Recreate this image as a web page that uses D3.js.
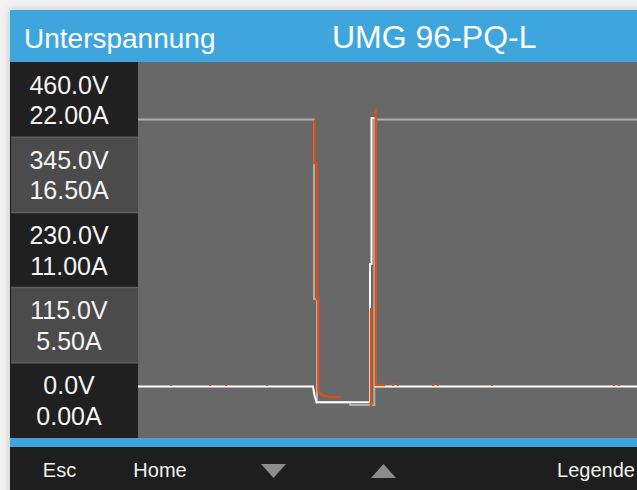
<!DOCTYPE html>
<html>
<head>
<meta charset="utf-8">
<script src="https://cdn.jsdelivr.net/npm/d3@7"></script>
<style>
  html, body { margin: 0; padding: 0; background: #f3f3f3; }
  svg { display: block; }
  text { font-family: "Liberation Sans", Arial, sans-serif; }
</style>
</head>
<body>
<svg id="chart" width="637" height="490"></svg>
<script>
// ---------- data ----------
const title = "UMG 96-PQ-L";
const pageName = "Unterspannung";
const voltTicks = [460, 345, 230, 115, 0];
const ampTicks = [22, 16.5, 11, 5.5, 0];
const menuItems = ["Esc", "Home", "▼", "▲", "Legende"];

// time index (samples) / value (V); null = gap
const seriesGray = [
  [0, 429.6], [176, 429.6], [176, 155.1], [179, 155.1], [179, -3], [212, -3],
  [212, -7], [236.3, -7], [236.3, 429.6], [500, 429.6]
];
const seriesWhite = [
  [0, 21.3], [175, 21.3], [176.5, 8], [178.5, -3], [232, -3], [232, 208.6],
  [233.5, 208.6], [233.5, 431.9], [237.5, 431.9], [237.5, 21.3], [500, 21.3]
];
const seriesOrange = [
  [32, 24], [34, 24], null,
  [71, 24], [73, 24], null,
  [87, 24], [89, 24], null,
  [128, 24], [130, 24], null,
  [176.5, 429.6], [176.5, 363], [179, 363], [179, 155.1], [180.5, 155.1], [180.5, 15.9],
  [181.5, 12], [183, 9], [186, 7], [189, 6], [192, 5.2], [203, 5.2], null,
  [233, 141.3], [233, -10.1], null,
  [237.7, 445.6], [237.7, 23.6], [247, 23.6], null,
  [254, 24], [256, 24], null,
  [259, 24], [261, 24], null,
  [294, 24], [296, 24], null,
  [299, 24], [301, 24], null,
  [353, 24], [355, 24], null,
  [475, 24], [477, 24], null,
  [480, 24], [482, 24]
];

// ---------- layout ----------
const svg = d3.select("#chart");
const W = 637, H = 490;
const frameX = 10, frameY = 10;
const headerBottom = 62, plotBottom = 438, blueBottom = 447;
const plotLeft = 138;

const defs = svg.append("defs");
const f = defs.append("filter").attr("id", "shadow").attr("x", "-5%").attr("y", "-5%").attr("width", "110%").attr("height", "110%");
f.append("feDropShadow").attr("dx", 0).attr("dy", 0).attr("stdDeviation", 4).attr("flood-color", "#000").attr("flood-opacity", 0.22);

// frame
svg.append("rect").attr("x", frameX).attr("y", frameY).attr("width", W).attr("height", H)
  .attr("fill", "#1e1e1e").attr("filter", "url(#shadow)");

// header
svg.append("rect").attr("x", frameX).attr("y", frameY).attr("width", W - frameX).attr("height", headerBottom - frameY)
  .attr("fill", "#3ea6dd");
svg.append("text").attr("x", 24).attr("y", 48).attr("fill", "#fff").attr("font-size", 28).text(pageName);
svg.append("text").attr("x", 332).attr("y", 48).attr("fill", "#fff").attr("font-size", 32).text(title);

// scales
const x = d3.scaleLinear().domain([0, 500]).range([plotLeft, plotLeft + 500]);
const y = d3.scaleLinear().domain([-57.5, 517.5]).range([plotBottom, headerBottom]);

// plot bg
svg.append("rect").attr("x", plotLeft).attr("y", headerBottom).attr("width", W - plotLeft).attr("height", plotBottom - headerBottom)
  .attr("fill", "#686868");

// left label bands
const bandHalf = 57.5;
const bands = svg.append("g");
voltTicks.forEach((v, i) => {
  const y0 = y(v + bandHalf), y1 = y(v - bandHalf);
  bands.append("rect").attr("x", frameX + 1).attr("y", y0).attr("width", plotLeft - frameX - 1).attr("height", y1 - y0)
    .attr("fill", i % 2 === 0 ? "#202020" : "#4b4b4b");
  const cy = (y0 + y1) / 2;
  bands.append("text").attr("x", 69).attr("y", cy - 6).attr("text-anchor", "middle")
    .attr("fill", "#f4f4f4").attr("font-size", 25).text(d3.format(".1f")(v) + "V");
  bands.append("text").attr("x", 69).attr("y", cy + 24.5).attr("text-anchor", "middle")
    .attr("fill", "#f4f4f4").attr("font-size", 25).text(d3.format(".2f")(ampTicks[i]) + "A");
});
voltTicks.slice(0, -1).forEach(v => {
  const yb = y(v - bandHalf);
  bands.append("line").attr("x1", frameX + 1).attr("x2", plotLeft).attr("y1", yb).attr("y2", yb)
    .attr("stroke", "#5e5e5e").attr("stroke-width", 1.5);
});

// traces
const line = d3.line().defined(d => d !== null).x(d => x(d[0])).y(d => y(d[1]));
const plot = svg.append("g");
plot.append("path").datum(seriesGray).attr("d", line).attr("fill", "none")
  .attr("stroke", "#b0b0b0").attr("stroke-width", 2);
plot.append("path").datum(seriesWhite).attr("d", line).attr("fill", "none")
  .attr("stroke", "#ffffff").attr("stroke-width", 2);
plot.append("path").datum(seriesOrange).attr("d", line).attr("fill", "none")
  .attr("stroke", "#d4521a").attr("stroke-width", 2.5);

// blue bar
svg.append("rect").attr("x", frameX).attr("y", plotBottom).attr("width", W - frameX).attr("height", blueBottom - plotBottom)
  .attr("fill", "#3ea6dd");

// bottom menu
svg.append("rect").attr("x", frameX).attr("y", blueBottom).attr("width", W - frameX).attr("height", H - blueBottom)
  .attr("fill", "#1e1e1e");
const menuX = [59.5, 160, 273.5, 383.5, 596];
menuItems.forEach((m, i) => {
  if (m === "▼" || m === "▲") {
    const cx = menuX[i], top = 464, bot = 478, hw = 12.5;
    const pts = m === "▼"
      ? [[cx - hw, top], [cx + hw, top], [cx, bot]]
      : [[cx - hw, bot], [cx + hw, bot], [cx, top]];
    svg.append("path").attr("d", d3.line()(pts) + "Z").attr("fill", "#8c8c8c");
  } else {
    svg.append("text").attr("x", menuX[i]).attr("y", 477).attr("text-anchor", "middle")
      .attr("fill", "#f0f0f0").attr("font-size", 20).text(m);
  }
});
</script>
</body>
</html>
